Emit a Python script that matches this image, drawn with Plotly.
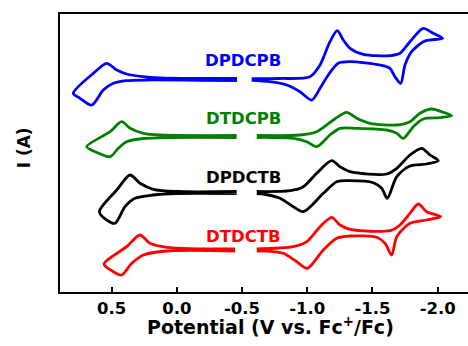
import plotly.graph_objects as go

# Compound names, colours, vertical stacking offsets (arbitrary current units)
names = ["DPDCPB", "DTDCPB", "DPDCTB", "DTDCTB"]
colors = ["#0000FF", "#008000", "#000000", "#FF0000"]
offsets = [212.5, 155.5, 99.5, 42.0]

# ---- DPDCPB (blue) ----
DPDCPB_left_V = [-0.462, -0.178, 0.128, 0.259, 0.384, 0.460, 0.537, 0.639, 0.793,
                 0.741, 0.652, 0.563, 0.486, 0.384, 0.230, -0.178, -0.462]
DPDCPB_left_I = [1.0, 1.0, 1.5, 2.8, 5.5, 9.5, 16.2, 6.2, -13.8,
                 -18.8, -25.5, -10.5, -3.8, -1.2, -0.5, -0.8, -1.0]
DPDCPB_right_V = [-0.574, -0.791, -1.021, -1.098, -1.174, -1.230, -1.276, -1.328, -1.430, -1.634,
                  -1.711, -1.787, -1.889, -1.966, -2.038,
                  -1.941, -1.889, -1.800, -1.749, -1.716, -1.672, -1.634, -1.558, -1.328, -1.238,
                  -1.161, -1.098, -1.034, -0.944, -0.843, -0.715, -0.574]
DPDCPB_right_I = [0.8, 1.0, 2.8, 14.5, 37.8, 48.8, 39.5, 31.2, 25.2, 23.8,
                  26.2, 37.8, 51.2, 46.2, 41.2,
                  39.5, 37.8, 27.8, 14.5, -3.8, 2.8, 11.2, 14.5, 17.8, 16.2,
                  4.5, -8.8, -20.5, -12.2, -5.5, -2.2, -0.8]

# ---- DTDCPB (green) ----
DTDCPB_left_V = [-0.459, 0.128, 0.256, 0.358, 0.422, 0.511, 0.690,
                 0.611, 0.511, 0.448, 0.384, 0.256, 0.052, -0.459]
DTDCPB_left_I = [1.0, 1.5, 3.2, 8.2, 14.8, 4.8, -10.2,
                 -16.0, -20.2, -11.8, -5.2, -2.0, -1.0, -1.0]
DTDCPB_right_V = [-0.613, -0.944, -1.072, -1.200, -1.302, -1.379, -1.481, -1.686, -1.787, -1.864,
                  -1.954, -2.043, -2.107,
                  -2.017, -1.889, -1.813, -1.736, -1.686, -1.609, -1.379, -1.251, -1.174, -1.072,
                  -0.996, -0.893, -0.715, -0.613]
DTDCPB_right_I = [1.0, 1.5, 4.8, 16.5, 24.2, 18.2, 13.2, 11.5, 14.8, 23.2,
                  27.5, 24.2, 20.8,
                  18.8, 17.5, 9.8, -1.8, 3.2, 6.5, 8.2, 8.2, 1.5, -10.2,
                  -5.2, -1.8, -1.0, -1.0]

# ---- DPDCTB (black) ----
DPDCTB_left_V = [-0.459, 0.000, 0.180, 0.282, 0.358, 0.460, 0.593,
                 0.537, 0.473, 0.397, 0.320, 0.180, 0.000, -0.459]
DPDCTB_left_I = [1.0, 1.0, 3.2, 9.2, 17.5, 2.5, -19.2,
                 -27.5, -30.8, -14.2, -5.8, -2.5, -1.0, -1.0]
DPDCTB_right_V = [-0.613, -0.868, -0.970, -1.072, -1.187, -1.251, -1.328, -1.609, -1.686, -1.787,
                  -1.877, -1.941, -2.004,
                  -1.915, -1.787, -1.686, -1.613, -1.571, -1.506, -1.328, -1.226, -1.123, -0.970,
                  -0.893, -0.791, -0.663, -0.613]
DPDCTB_right_I = [1.0, 1.8, 5.8, 19.2, 31.8, 25.8, 20.8, 18.5, 24.2, 37.5,
                  44.2, 37.5, 31.8,
                  28.5, 26.5, 15.8, -5.8, 4.2, 9.8, 11.8, 10.8, -0.8, -19.2,
                  -14.2, -5.8, -1.5, -1.0]

# ---- DTDCTB (red) ----
DTDCTB_left_V = [-0.446, 0.077, 0.205, 0.282, 0.384, 0.557,
                 0.486, 0.422, 0.345, 0.256, 0.077, -0.446]
DTDCTB_left_I = [1.0, 2.7, 6.7, 15.0, 3.3, -14.0,
                 -21.7, -25.0, -13.3, -5.0, -1.0, -1.0]
DTDCTB_right_V = [-0.613, -0.893, -0.996, -1.098, -1.187, -1.251, -1.328, -1.634, -1.711, -1.787,
                  -1.851, -1.915, -2.023,
                  -1.915, -1.787, -1.686, -1.647, -1.596, -1.532, -1.328, -1.226, -1.123, -1.000,
                  -0.919, -0.817, -0.689, -0.613]
DTDCTB_right_I = [1.0, 3.3, 8.3, 23.3, 32.7, 25.0, 20.7, 19.3, 25.0, 36.7,
                  46.0, 38.3, 33.3,
                  30.0, 26.7, 13.3, -5.0, 6.7, 12.7, 14.0, 11.7, 0.0, -18.3,
                  -11.7, -3.3, -1.0, -1.0]

segments = [
    (DPDCPB_left_V, DPDCPB_left_I, DPDCPB_right_V, DPDCPB_right_I),
    (DTDCPB_left_V, DTDCPB_left_I, DTDCPB_right_V, DTDCPB_right_I),
    (DPDCTB_left_V, DPDCTB_left_I, DPDCTB_right_V, DPDCTB_right_I),
    (DTDCTB_left_V, DTDCTB_left_I, DTDCTB_right_V, DTDCTB_right_I),
]

tick_vals = [0.5, 0.0, -0.5, -1.0, -1.5, -2.0]
tick_text = ["0.5", "0.0", "-0.5", "-1.0", "-1.5", "-2.0"]

FONT = "DejaVu Sans"

fig = go.Figure()
for name, color, off, (lv, li, rv, ri) in zip(names, colors, offsets, segments):
    xs = list(lv) + [None] + list(rv)
    ys = [v + off for v in li] + [None] + [v + off for v in ri]
    fig.add_trace(go.Scatter(
        x=xs, y=ys, mode="lines", name=name, connectgaps=False,
        line=dict(color=color, width=2.8, shape="spline", smoothing=0.8),
        showlegend=False, hoverinfo="skip"))

label_y = [offsets[0] + 19.5, offsets[1] + 18.2, offsets[2] + 15.2, offsets[3] + 13.3]
for name, color, yy in zip(names, colors, label_y):
    fig.add_annotation(x=-0.51, y=yy, text=name, showarrow=False,
                       xanchor="center", yanchor="middle",
                       font=dict(family=FONT, size=16.5, color=color, weight="bold"))

# axis titles as annotations (paper coordinates)
fig.add_annotation(xref="paper", yref="paper", x=0.515, y=-0.122,
                   text="Potential (V vs. Fc<sup>+</sup>/Fc)", showarrow=False,
                   xanchor="center", yanchor="middle",
                   font=dict(family=FONT, size=19, color="black", weight="bold"))
fig.add_annotation(xref="paper", yref="paper", x=-0.086, y=0.52,
                   text="I (A)", showarrow=False, textangle=-90,
                   xanchor="center", yanchor="middle",
                   font=dict(family=FONT, size=17, color="black", weight="bold"))

fig.update_layout(
    width=468, height=346,
    margin=dict(l=60, r=0, t=14, b=54),
    paper_bgcolor="white", plot_bgcolor="white",
    xaxis=dict(range=[0.895, -2.232], tickvals=tick_vals, ticktext=tick_text,
               ticks="inside", ticklen=5, tickwidth=2, tickcolor="black",
               showline=True, linewidth=2, linecolor="black", mirror=True,
               showgrid=False, zeroline=False,
               tickfont=dict(family=FONT, size=16.5, color="black", weight="bold")),
    yaxis=dict(range=[0, 278], showticklabels=False, ticks="",
               showline=True, linewidth=2, linecolor="black",
               showgrid=False, zeroline=False),
)

fig.write_html("out.html", config={"displayModeBar": False},
               post_script="document.body.style.margin='0';document.body.style.overflow='hidden';")
